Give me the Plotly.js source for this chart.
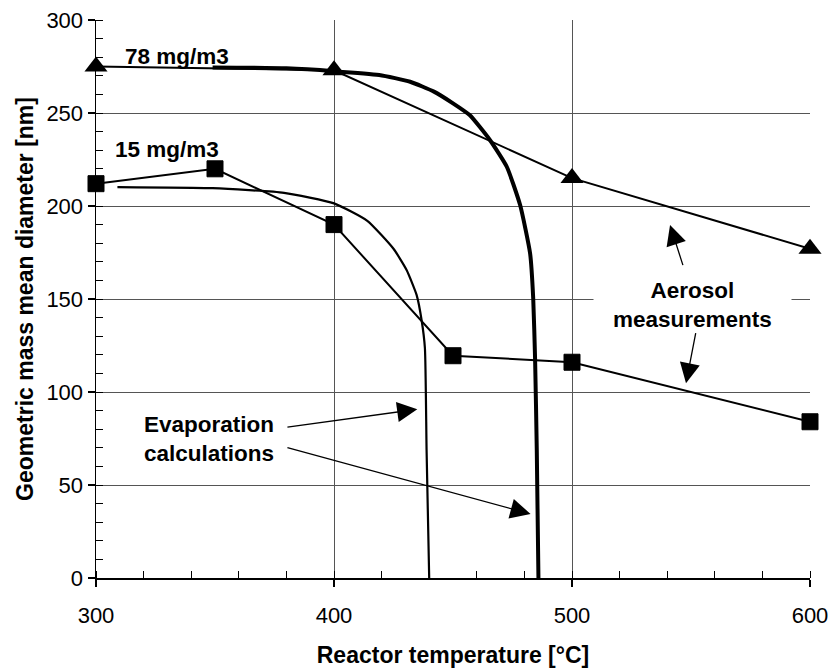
<!DOCTYPE html>
<html>
<head>
<meta charset="utf-8">
<script src="https://cdn.plot.ly/plotly-3.0.1.min.js"></script>
<style>html,body{margin:0;padding:0;background:#fff;}#chart{width:831px;height:668px;}</style>
</head>
<body>
<div id="chart"></div>
<script>
// Aerosol measurements, 78 mg/m3 (triangles)
const tempHigh = [300, 400, 500, 600];
const diamHigh = [275, 273, 215, 177];
// Aerosol measurements, 15 mg/m3 (squares)
const tempLow = [300, 350, 400, 450, 500, 600];
const diamLow = [212, 220, 190, 119.5, 116, 84];
// Evaporation calculation, 78 mg/m3 (thick curve)
const evapHighT = [349, 380, 400, 419, 432, 442, 450, 457, 465.5, 472.6, 478.2, 482.4, 483.7, 484.5, 485.2, 485.9];
const evapHighD = [274.5, 274, 272.5, 270.4, 266.8, 261.5, 255.2, 248.9, 235.5, 221.1, 200.5, 174.5, 150.4, 117.2, 68.8, 0];
// Evaporation calculation, 15 mg/m3 (thin curve)
const evapLowT = [309, 349, 379, 400, 414, 425, 430.5, 434.7, 436.8, 438.2, 438.9, 440];
const evapLowD = [210.2, 209.6, 207.1, 201.4, 192, 177, 165.6, 152.2, 138.7, 123.5, 68.8, 0];
// Axis ticks
const xTicks = [300, 400, 500, 600];
const yTicks = [0, 50, 100, 150, 200, 250, 300];

const FONT = 'Liberation Sans, Arial, sans-serif';

const traces = [
  {x: evapHighT, y: evapHighD, mode: 'lines', line: {color: '#000', width: 4, shape: 'spline', smoothing: 0.5}, hoverinfo: 'skip'},
  {x: evapLowT, y: evapLowD, mode: 'lines', line: {color: '#000', width: 2.2, shape: 'spline', smoothing: 0.5}, hoverinfo: 'skip'},
  {x: tempHigh, y: diamHigh, mode: 'lines+markers', cliponaxis: false, line: {color: '#000', width: 2},
   marker: {symbol: 'triangle-up', size: 20, color: '#000'}},
  {x: tempLow, y: diamLow, mode: 'lines+markers', cliponaxis: false, line: {color: '#000', width: 2},
   marker: {symbol: 'square', size: 16, color: '#000', line: {color: '#000', width: 1}}}
];

const annFont = {family: FONT, size: 22.5, color: '#000', weight: 'bold'};
function label(text, x, y, extra) {
  return Object.assign({text: text, x: x, y: y, xref: 'x', yref: 'y', showarrow: false,
    font: annFont, xanchor: 'center', yanchor: 'middle'}, extra || {});
}
function arrow(tipX, tipY, tailX, tailY) {
  return {text: '', x: tipX, y: tipY, ax: tailX, ay: tailY, xref: 'x', yref: 'y',
    axref: 'x', ayref: 'y', showarrow: true, arrowhead: 2, arrowsize: 3.1, arrowwidth: 1.3,
    arrowcolor: '#000', standoff: 0, startstandoff: 0};
}

const layout = {
  width: 831, height: 668,
  margin: {l: 96, r: 21, t: 20, b: 90, pad: 0},
  paper_bgcolor: '#fff', plot_bgcolor: '#fff',
  showlegend: false,
  font: {family: FONT, color: '#000'},
  xaxis: {
    range: [300, 600], tickvals: xTicks, ticktext: xTicks.map(String),
    ticks: 'outside', ticklen: 7, tickwidth: 1.5, tickcolor: '#000',
    showline: true, linecolor: '#000', linewidth: 1.5,
    showgrid: true, gridcolor: '#555', gridwidth: 1, zeroline: false,
    tickfont: {family: FONT, size: 22, color: '#000'},
    ticklabelstandoff: 10,
    minor: {dtick: 20, tick0: 300, ticks: 'inside', ticklen: 7, tickwidth: 1, tickcolor: '#000', showgrid: false},
    title: {text: 'Reactor temperature [°C]', font: {family: FONT, size: 23, weight: 'bold', color: '#000'}, standoff: 22}
  },
  yaxis: {
    range: [0, 300], tickvals: yTicks, ticktext: yTicks.map(String),
    ticks: 'outside', ticklen: 7, tickwidth: 1.5, tickcolor: '#000',
    showline: true, linecolor: '#000', linewidth: 1.5,
    showgrid: true, gridcolor: '#555', gridwidth: 1, zeroline: false,
    tickfont: {family: FONT, size: 22, color: '#000'},
    minor: {dtick: 10, tick0: 0, ticks: 'inside', ticklen: 7, tickwidth: 1, tickcolor: '#000', showgrid: false},
    title: {text: 'Geometric mass mean diameter [nm]', font: {family: FONT, size: 23, weight: 'bold', color: '#000'}, standoff: 6}
  },
  annotations: [
    label('78 mg/m3', 333.9, 280.6),
    label('15 mg/m3', 329.7, 230.6),
    label('Evaporation<br>calculations', 347.3, 74.6),
    label('Aerosol<br>measurements', 550.6, 146.8, {bgcolor: '#fff', borderpad: 19}),
    arrow(541.2, 189.8, 546.8, 167.4),
    arrow(547.9, 104.7, 552.1, 132.4),
    arrow(435.0, 90.7, 379.8, 81.0),
    arrow(482.6, 34.4, 379.8, 70.3)
  ]
};

Plotly.newPlot('chart', traces, layout, {displayModeBar: false, staticPlot: true});
</script>
</body>
</html>
